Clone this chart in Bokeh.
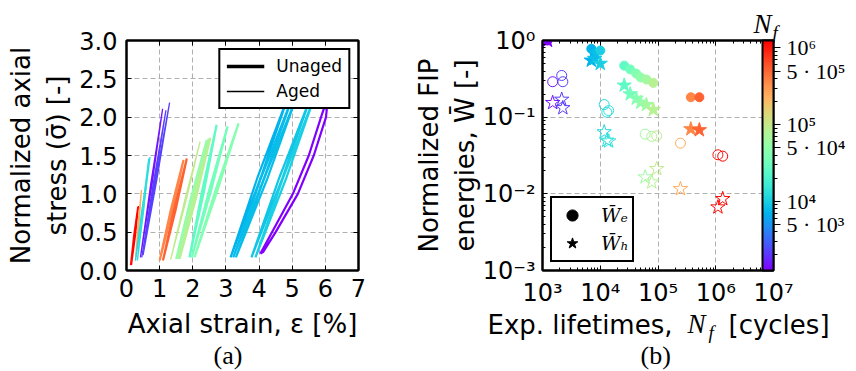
import math
from bokeh.plotting import figure
from bokeh.models import (ColumnDataSource, FixedTicker, PrintfTickFormatter, LinearAxis, LogAxis,
                          Legend, LegendItem, ColorBar, LogColorMapper, Range1d, AllLabels)
from bokeh.transform import transform
from bokeh.layouts import row
from bokeh.embed import file_html
from bokeh.resources import INLINE

# ---------------- data: (a) stress-strain hysteresis loops ----------------
loop_nf = [1.09e6, 1.32e6, 2.45e5, 1.17e4, 1.30e4, 1.50e3, 2.15e3, 2.25e3,
           3.7e5, 5.2e5, 9.5e4, 5.0e4, 6.3e4, 8.3e4, 2.6e4, 3.3e4, 4.2e4,
           7.0e3, 7.7e3, 8.0e3, 8.9e3, 1.0e4]
loop_aged = [1, 1, 1, 1, 1, 1, 1, 1,
             0, 0, 1, 0, 0, 0, 0, 0, 0,
             0, 0, 0, 0, 0]
loop_eps_lo = [0.12, 0.15, 0.27, 0.27, 0.33, 0.42, 0.46, 0.50,
               1.00, 1.10, 1.33, 1.50, 1.55, 1.60, 1.90, 1.97, 2.05,
               3.14, 3.22, 3.30, 3.77, 3.89]
loop_sig_lo = [0.07, 0.07, 0.13, 0.13, 0.13, 0.17, 0.17, 0.20,
               0.13, 0.13, 0.14, 0.15, 0.15, 0.15, 0.17, 0.17, 0.17,
               0.17, 0.17, 0.17, 0.17, 0.17]
loop_eps_hi = [0.34, 0.36, 0.45, 0.71, 0.67, 1.09, 1.19, 1.30,
               1.72, 1.82, 2.22, 2.42, 2.48, 2.53, 2.72, 3.05, 3.38,
               4.86, 5.00, 5.12, 5.55, 5.66]
loop_sig_hi = [0.83, 0.84, 1.05, 1.48, 1.46, 2.11, 2.09, 2.19,
               1.44, 1.46, 1.68, 1.70, 1.72, 1.73, 1.90, 1.88, 1.92,
               2.25, 2.25, 2.25, 2.25, 2.25]
loop_halfwidth = [0.015, 0.015, 0.015, 0.02, 0.02, 0.02, 0.02, 0.02,
                  0.025, 0.025, 0.02, 0.03, 0.03, 0.03, 0.03, 0.03, 0.03,
                  0.05, 0.05, 0.05, 0.05, 0.05]

# the curved, widest loop (unaged, shortest life), traced point by point
purple_nf = 1.22e3
purple_eps = [4.04, 4.39, 5.02, 5.50, 5.87, 6.08, 6.02, 5.65, 5.17, 4.50, 4.12, 4.04]
purple_sig = [0.22, 0.50, 1.00, 1.50, 2.00, 2.27, 2.00, 1.50, 1.00, 0.50, 0.24, 0.22]

x_ticks_a = [0, 1, 2, 3, 4, 5, 6, 7]
y_ticks_a = [0.0, 0.5, 1.0, 1.5, 2.0, 2.5, 3.0]

# ---------------- data: (b) FIP energies vs lifetime ----------------
unaged_nf = [1.22e3, 7.0e3, 8.0e3, 1.0e4, 2.6e4, 3.3e4, 4.2e4, 5.0e4, 6.3e4, 8.3e4, 3.7e5, 5.2e5]
unaged_we = [1.00, 0.78, 0.68, 0.74, 0.47, 0.42, 0.37, 0.33, 0.31, 0.28, 0.182, 0.182]
unaged_wh = [1.00, 0.55, 0.58, 0.50, 0.26, 0.20, 0.175, 0.155, 0.145, 0.125, 0.070, 0.068]

aged_nf = [1.5e3, 2.15e3, 2.25e3, 1.17e4, 1.30e4, 1.40e4, 6.0e4, 7.8e4, 9.5e4, 2.45e5, 1.09e6, 1.32e6]
aged_we = [0.29, 0.35, 0.29, 0.146, 0.116, 0.122, 0.060, 0.056, 0.057, 0.0458, 0.0323, 0.031]
aged_wh = [0.154, 0.17, 0.132, 0.064, 0.0497, 0.0486, 0.0165, 0.0142, 0.0212, 0.0116, 0.0067, 0.0086]

x_ticks_b = [1e3, 1e4, 1e5, 1e6, 1e7]
x_labels_b = ["10³", "10⁴", "10⁵", "10⁶", "10⁷"]
y_ticks_b = [1e-3, 1e-2, 1e-1, 1.0]
y_labels_b = ["10⁻³", "10⁻²", "10⁻¹", "10⁰"]
cb_ticks = [5e3, 1e4, 5e4, 1e5, 5e5, 1e6]
cb_labels = ["5 · 10³", "10⁴", "5 · 10⁴", "10⁵", "5 · 10⁵", "10⁶"]
nf_low, nf_high = 1.25e3, 1.25e6


# ---------------- colour map (matplotlib "rainbow") ----------------
def rainbow_hex(t):
    r = min(max(abs(2 * t - 0.5), 0), 1)
    g = min(max(math.sin(math.pi * t), 0), 1)
    b = min(max(math.cos(math.pi * t / 2), 0), 1)
    return "#%02x%02x%02x" % (round(r * 255), round(g * 255), round(b * 255))


palette = [rainbow_hex(i / 255) for i in range(256)]
mapper = LogColorMapper(palette=palette, low=nf_low, high=nf_high)

SANS = "DejaVu Sans"
SERIF = "Liberation Serif"
H = 370
TOP = 40
FH = 230


def style_axis(ax, ticker, labels=True, minor=False):
    ax.ticker = ticker
    ax.axis_line_color = "black"
    ax.axis_line_width = 2
    ax.major_tick_line_color = "black"
    ax.major_tick_in = 5
    ax.major_tick_out = 0
    ax.minor_tick_line_color = "black" if minor else None
    ax.minor_tick_in = 3
    ax.minor_tick_out = 0
    ax.major_label_text_font = SANS
    ax.major_label_text_font_size = "24px"
    ax.major_label_text_color = "black"
    ax.axis_label_text_font = SANS
    ax.axis_label_text_font_size = "26px"
    ax.axis_label_text_font_style = "normal"
    ax.axis_label_text_color = "black"
    if not labels:
        ax.major_label_overrides = {t: "" for t in ticker.ticks}
        ax.major_label_standoff = 0


def style_grid(p):
    for g in (p.xgrid, p.ygrid):
        g.grid_line_color = "#b0b0b0"
        g.grid_line_dash = "5 3"
        g.grid_line_width = 1


def text_piece(text, loc, font, size, style="normal"):
    # colour bar with an invisible 1px scale, used only to carry a free-standing title text
    return ColorBar(color_mapper=mapper, ticker=FixedTicker(ticks=[]), location=loc,
                    width=1, height=1, padding=0, margin=0, orientation="horizontal",
                    scale_alpha=0, bar_line_color=None,
                    major_tick_line_color=None, minor_tick_line_color=None,
                    major_tick_in=0, major_tick_out=0, minor_tick_in=0, minor_tick_out=0,
                    label_standoff=0,
                    title=text, title_standoff=0, title_text_font=font,
                    title_text_font_size=size, title_text_font_style=style,
                    title_text_color="black",
                    background_fill_alpha=0, border_line_color=None)


# ======================= (a) =======================
p1 = figure(width=410, height=H, x_range=Range1d(0, 7), y_range=Range1d(0, 3),
            output_backend="svg", toolbar_location=None,
            min_border_left=126, min_border_right=52, min_border_top=TOP,
            min_border_bottom=H - TOP - FH)
p1.outline_line_color = "black"
p1.outline_line_width = 2

xs, ys = [], []
for e0, s0, e1, s1, hw in zip(loop_eps_lo, loop_sig_lo, loop_eps_hi, loop_sig_hi, loop_halfwidth):
    em = (e0 + e1) / 2
    sm = (s0 + s1) / 2
    xs.append([e0, em - hw, e1, em + hw, e0])
    ys.append([s0, sm, s1, sm, s0])
lw = [1.3 if a else 2.2 for a in loop_aged]
xs.append(purple_eps)
ys.append(purple_sig)
all_nf = loop_nf + [purple_nf]
lw.append(2.2)
src_loops = ColumnDataSource(dict(xs=xs, ys=ys, nf=all_nf, lw=lw))
p1.multi_line("xs", "ys", source=src_loops, line_color=transform("nf", mapper), line_width="lw")

style_axis(p1.xaxis[0], FixedTicker(ticks=x_ticks_a))
style_axis(p1.yaxis[0], FixedTicker(ticks=y_ticks_a))
p1.yaxis[0].formatter = PrintfTickFormatter(format="%.1f")
p1.xaxis[0].major_label_standoff = 8
p1.yaxis[0].major_label_standoff = 9
p1.xaxis[0].axis_label = "Axial strain, ε [%]"
p1.xaxis[0].axis_label_standoff = 9
p1.yaxis[0].axis_label = "Normalized axial\nstress (σ\u0304) [-]"
p1.yaxis[0].axis_label_standoff = 4
ax_top = LinearAxis()
style_axis(ax_top, FixedTicker(ticks=x_ticks_a), labels=False)
p1.add_layout(ax_top, "above")
ax_right = LinearAxis()
style_axis(ax_right, FixedTicker(ticks=y_ticks_a), labels=False)
p1.add_layout(ax_right, "right")
p1.xgrid.ticker = FixedTicker(ticks=x_ticks_a)
p1.ygrid.ticker = FixedTicker(ticks=y_ticks_a)
style_grid(p1)

r_un = p1.line(x=[-5, -4], y=[-5, -5], line_color="black", line_width=3.5)
r_ag = p1.line(x=[-5, -4], y=[-5, -5], line_color="black", line_width=1.4)
leg1 = Legend(items=[LegendItem(label="Unaged", renderers=[r_un]),
                     LegendItem(label="Aged", renderers=[r_ag])],
              location="top_right", margin=8, padding=6, spacing=5,
              glyph_width=38, glyph_height=20, label_height=20, label_standoff=12,
              label_text_font=SANS, label_text_font_size="17px", label_text_color="black",
              border_line_color="black", border_line_width=2, border_line_alpha=1,
              background_fill_color="white", background_fill_alpha=1)
p1.add_layout(leg1)
p1.add_layout(text_piece("(a)", (87, -100), SERIF, "26px"))

# ======================= (b) =======================
p2 = figure(width=856 - 410, height=H, x_axis_type="log", y_axis_type="log",
            x_range=Range1d(1e3, 1e7), y_range=Range1d(1e-3, 1.0),
            output_backend="svg", toolbar_location=None,
            min_border_left=132, min_border_right=856 - 410 - 132 - 231, min_border_top=TOP,
            min_border_bottom=H - TOP - FH)
p2.outline_line_color = "black"
p2.outline_line_width = 2

x_minor = [m * 10 ** d for d in range(3, 7) for m in range(2, 10)]
y_minor = [m * 10.0 ** d for d in range(-3, 0) for m in range(2, 10)]
style_axis(p2.xaxis[0], FixedTicker(ticks=x_ticks_b, minor_ticks=x_minor), minor=True)
style_axis(p2.yaxis[0], FixedTicker(ticks=y_ticks_b, minor_ticks=y_minor), minor=True)
p2.xaxis[0].major_label_overrides = dict(zip(x_ticks_b, x_labels_b))
p2.yaxis[0].major_label_overrides = dict(zip(y_ticks_b, y_labels_b))
p2.xaxis[0].major_label_standoff = 8
p2.yaxis[0].major_label_standoff = 7
p2.yaxis[0].axis_label = "Normalized FIP\nenergies, W\u0304 [-]"
p2.yaxis[0].axis_label_standoff = 0
ax_top2 = LogAxis()
style_axis(ax_top2, FixedTicker(ticks=x_ticks_b, minor_ticks=x_minor), labels=False, minor=True)
p2.add_layout(ax_top2, "above")
p2.xgrid.ticker = FixedTicker(ticks=x_ticks_b)
p2.ygrid.ticker = FixedTicker(ticks=y_ticks_b)
style_grid(p2)

src_un = ColumnDataSource(dict(nf=unaged_nf, we=unaged_we, wh=unaged_wh))
src_ag = ColumnDataSource(dict(nf=aged_nf, we=aged_we, wh=aged_wh))
col = transform("nf", mapper)
p2.scatter("nf", "we", source=src_ag, marker="circle", size=10, fill_color=None, line_color=col, line_width=1)
p2.scatter("nf", "wh", source=src_ag, marker="star", size=15, fill_color=None, line_color=col, line_width=1)
p2.scatter("nf", "we", source=src_un, marker="circle", size=9, fill_color=col, line_color=col)
p2.scatter("nf", "wh", source=src_un, marker="star", size=15, fill_color=col, line_color=col)

r_c = p2.scatter(x=[1e-6], y=[1e-6], marker="circle", size=11, fill_color="black", line_color="black")
r_s = p2.scatter(x=[1e-6], y=[1e-6], marker="star", size=17, fill_color="black", line_color="black")
leg2 = Legend(items=[LegendItem(label="W\u0304ₑ", renderers=[r_c]),
                     LegendItem(label="W\u0304ₕ", renderers=[r_s])],
              location="bottom_left", margin=8, padding=3, spacing=0,
              glyph_width=34, glyph_height=28, label_height=28, label_standoff=12,
              label_text_font="DejaVu Serif", label_text_font_style="italic",
              label_text_font_size="19px", label_text_color="black",
              border_line_color="black", border_line_width=2, border_line_alpha=1,
              background_fill_color="white", background_fill_alpha=1)
p2.add_layout(leg2)

cb_minor = [m * 10 ** d for d in range(3, 6) for m in range(2, 10) if nf_low <= m * 10 ** d <= nf_high]
cb = ColorBar(color_mapper=mapper,
              ticker=FixedTicker(ticks=cb_ticks, minor_ticks=cb_minor),
              major_label_overrides=dict(zip(cb_ticks, cb_labels)),
              location=(220, 0), width=11, height=FH, padding=0, margin=0,
              orientation="vertical",
              major_tick_in=0, major_tick_out=7, minor_tick_in=0, minor_tick_out=4,
              major_tick_line_color="black", minor_tick_line_color="black",
              bar_line_color="black", bar_line_width=2,
              label_standoff=6,
              major_label_text_font=SERIF, major_label_text_font_size="22px",
              major_label_text_color="black",
              background_fill_alpha=0, border_line_color=None)
if "major_label_policy" in ColorBar.properties():
    cb.major_label_policy = AllLabels()
p2.add_layout(cb)

# composed x-axis label: "Exp. lifetimes, N_f [cycles]"
p2.add_layout(text_piece("Exp. lifetimes,", (-55, -70), SANS, "26px"))
p2.add_layout(text_piece("N", (145, -69), SERIF, "27px", "italic"))
p2.add_layout(text_piece("f", (166, -73), SERIF, "19px", "italic"))
p2.add_layout(text_piece("[cycles]", (186, -70), SANS, "26px"))
# colour-bar title N_f
p2.add_layout(text_piece("N", (211, 231), SERIF, "27px", "italic"))
p2.add_layout(text_piece("f", (230, 227), SERIF, "19px", "italic"))
p2.add_layout(text_piece("(b)", (98, -100), SERIF, "26px"))

layout = row(p1, p2, spacing=0)
open("out.html", "w").write(file_html(layout, INLINE))
